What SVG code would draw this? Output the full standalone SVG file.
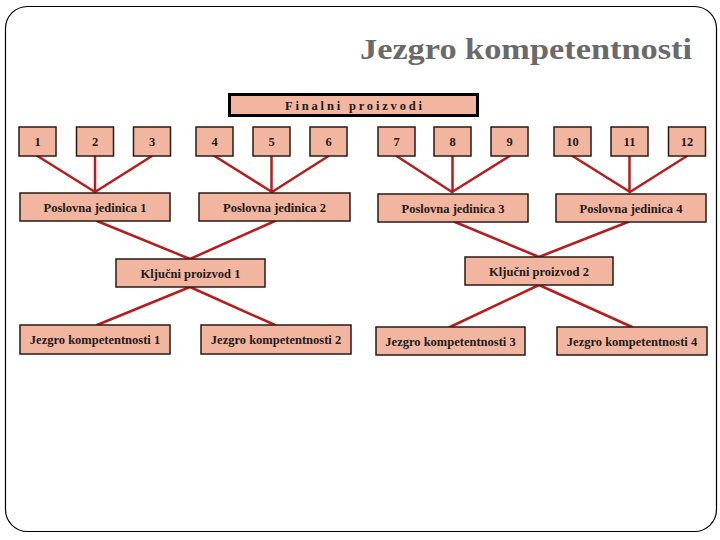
<svg xmlns="http://www.w3.org/2000/svg" width="720" height="540" viewBox="0 0 720 540">
<style>
.bx{fill:#f2b6a0;stroke:#2a1a16;stroke-width:1.5}
.t{font-family:"Liberation Serif",serif;font-weight:bold;font-size:12.5px;fill:#231a18;text-anchor:middle}
.ln{stroke:#b81c1c;stroke-width:2.5;fill:none;stroke-linecap:round}
</style>
<rect x="5.5" y="6.5" width="711" height="525" rx="22" fill="#fff" stroke="#000" stroke-width="1.2"/>
<text x="692" y="59" font-family="Liberation Serif,serif" font-weight="bold" font-size="29" fill="#6a6a6a" text-anchor="end" textLength="332" lengthAdjust="spacingAndGlyphs">Jezgro kompetentnosti</text>
<g id="connectors">
<path class="ln" d="M37.5 156L95 192M95 156V192M152 156L95 192"/>
<path class="ln" d="M214.5 156L272 192M271.5 156V192M328.5 156L272 192"/>
<path class="ln" d="M396.5 156L452 192M452.5 156V192M509.5 156L452 192"/>
<path class="ln" d="M572.5 156L630 192M629.5 156V192M687 156L630 192"/>
<path class="ln" d="M97 221L190 259M275 221L190 259"/>
<path class="ln" d="M455 222L539 257M628 222L539 257"/>
<path class="ln" d="M190 287L97 325M190 287L275 325"/>
<path class="ln" d="M539 285L450 327M539 285L632 327"/>
</g>
<g id="finalni"><rect x="229.5" y="94.5" width="248" height="21" fill="#f2b6a0" stroke="#000" stroke-width="3"/><text class="t" x="353.5" y="109.5" font-size="11.5" textLength="137" lengthAdjust="spacing">Finalni proizvodi</text></g>
<g id="n1"><rect class="bx" x="19" y="127" width="37" height="29"/><text class="t" x="37.5" y="146">1</text></g>
<g id="n2"><rect class="bx" x="76.5" y="127" width="37" height="29"/><text class="t" x="95" y="146">2</text></g>
<g id="n3"><rect class="bx" x="133.5" y="127" width="37" height="29"/><text class="t" x="152" y="146">3</text></g>
<g id="n4"><rect class="bx" x="196" y="127" width="37" height="29"/><text class="t" x="214.5" y="146">4</text></g>
<g id="n5"><rect class="bx" x="253" y="127" width="37" height="29"/><text class="t" x="271.5" y="146">5</text></g>
<g id="n6"><rect class="bx" x="310" y="127" width="37" height="29"/><text class="t" x="328.5" y="146">6</text></g>
<g id="n7"><rect class="bx" x="378" y="127" width="37" height="29"/><text class="t" x="396.5" y="146">7</text></g>
<g id="n8"><rect class="bx" x="434" y="127" width="37" height="29"/><text class="t" x="452.5" y="146">8</text></g>
<g id="n9"><rect class="bx" x="491" y="127" width="37" height="29"/><text class="t" x="509.5" y="146">9</text></g>
<g id="n10"><rect class="bx" x="554" y="127" width="37" height="29"/><text class="t" x="572.5" y="146">10</text></g>
<g id="n11"><rect class="bx" x="611" y="127" width="37" height="29"/><text class="t" x="629.5" y="146">11</text></g>
<g id="n12"><rect class="bx" x="668.5" y="127" width="37" height="29"/><text class="t" x="687" y="146">12</text></g>
<g id="pj1"><rect class="bx" x="20" y="193" width="150" height="28"/><text class="t" x="95" y="211.5">Poslovna jedinica 1</text></g>
<g id="pj2"><rect class="bx" x="199" y="193" width="151" height="28"/><text class="t" x="274.5" y="211.5">Poslovna jedinica 2</text></g>
<g id="pj3"><rect class="bx" x="378" y="194" width="150" height="28"/><text class="t" x="453" y="212.5">Poslovna jedinica 3</text></g>
<g id="pj4"><rect class="bx" x="556" y="194" width="150" height="28"/><text class="t" x="631" y="212.5">Poslovna jedinica 4</text></g>
<g id="kp1"><rect class="bx" x="116" y="259" width="149" height="28"/><text class="t" x="190.5" y="277.5">Ključni proizvod 1</text></g>
<g id="kp2"><rect class="bx" x="465" y="257" width="148" height="28"/><text class="t" x="539" y="275.5">Ključni proizvod 2</text></g>
<g id="jk1"><rect class="bx" x="20" y="325" width="150" height="29"/><text class="t" x="95" y="344">Jezgro kompetentnosti 1</text></g>
<g id="jk2"><rect class="bx" x="201" y="325" width="150" height="29"/><text class="t" x="276" y="344">Jezgro kompetentnosti 2</text></g>
<g id="jk3"><rect class="bx" x="376" y="327" width="149" height="28"/><text class="t" x="450.5" y="345.5">Jezgro kompetentnosti 3</text></g>
<g id="jk4"><rect class="bx" x="557" y="327" width="150" height="28"/><text class="t" x="632" y="345.5">Jezgro kompetentnosti 4</text></g>
</svg>
